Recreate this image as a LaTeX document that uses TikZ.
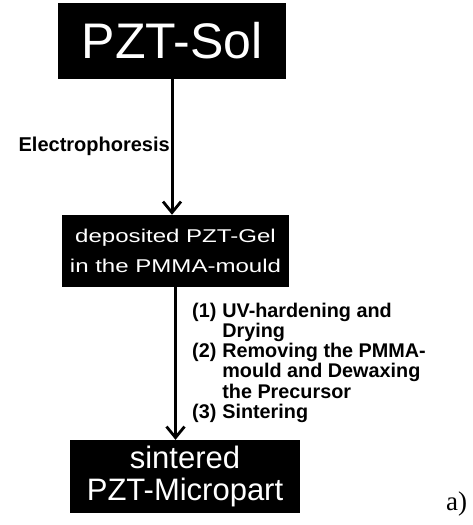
\documentclass[tikz,border=0pt]{standalone}
\usepackage{fontspec}
\setmainfont{Liberation Sans}
\newfontfamily\widesans[FakeStretch=1.3]{Liberation Sans}
\newfontfamily\tagserif{Liberation Serif}
\usepackage{tikz}
\usetikzlibrary{arrows.meta,positioning}

\begin{document}
\begin{tikzpicture}[x=1pt,y=-1pt,
    procbox/.style={fill=black,text=white,inner sep=0pt,align=center},
    flowarrow/.style={line width=3pt,-{Straight Barb[length=11pt,width=18pt,line width=2.8pt]}},
    steplabel/.style={inner sep=0pt,font=\bfseries}]
        \useasboundingbox (0,0) rectangle (473,525);
        \node[procbox,minimum width=228pt,minimum height=76pt,
          font=\fontsize{50}{50}\selectfont] (sol) at (172,41) {PZT-Sol};
        \node[procbox,minimum width=227pt,minimum height=72pt,
          font=\widesans\fontsize{18.5}{30}\selectfont] (gel) at (175.5,251)
          {deposited PZT-Gel\\in the PMMA-mould};
        \node[procbox,minimum width=230pt,minimum height=73pt,
          font=\fontsize{31}{32}\selectfont] (part) at (185,476.5)
          {sintered\\PZT-Micropart};
        \draw[flowarrow] (sol.south) -- (sol.south |- gel.north);
        \draw[flowarrow] (gel.south) -- (gel.south |- part.north);
        \node[steplabel,anchor=base east,font=\bfseries\fontsize{20}{20}\selectfont]
          (ep) at (170,151) {Electrophoresis};
        \node[steplabel,anchor=base west] (steps) at (192,317)
          {\fontsize{19.8}{19.7}\selectfont\renewcommand\arraystretch{1}%
           \begin{tabular}[t]{@{}l@{\hspace{0.3em}}l@{}}
           (1) & UV-hardening and\\
               & Drying\\
           (2) & Removing the PMMA-\\
               & mould and Dewaxing\\
               & the Precursor\\
           (3) & Sintering
           \end{tabular}};
        \node[anchor=base west,inner sep=0pt,font=\tagserif\fontsize{27}{27}\selectfont]
          (tag) at (446,510) {a)};
      \end{tikzpicture}
\end{document}
